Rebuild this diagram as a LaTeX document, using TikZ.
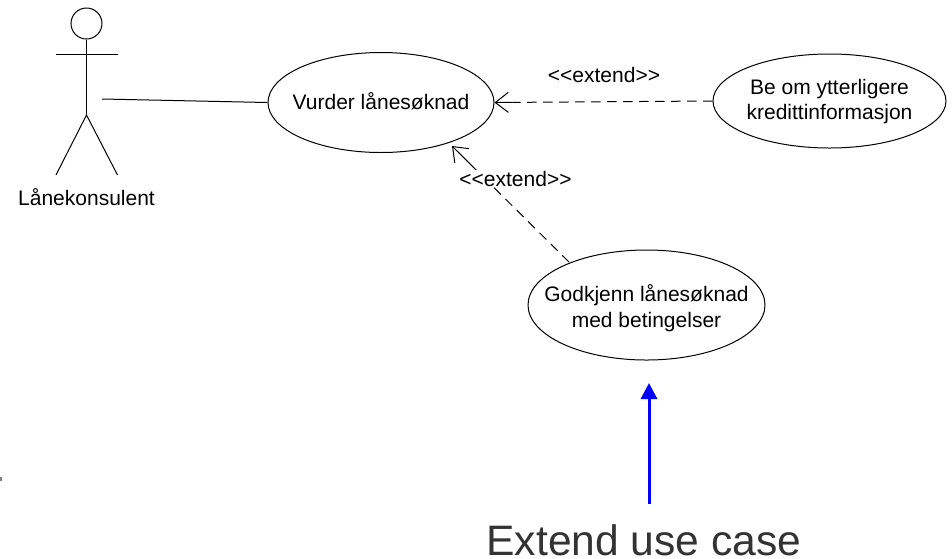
\documentclass[tikz,border=0pt]{standalone}
\usepackage{fontspec}
\setmainfont{Liberation Sans}
\usetikzlibrary{arrows.meta,shapes.geometric,calc}
\definecolor{dk}{HTML}{333333}
\newcommand{\uctext}[2][0pt]{\raisebox{#1}[0pt][0pt]{\makebox[0pt][c]{\begin{tabular}{@{}c@{}}#2\end{tabular}}}}
\tikzset{
  line/.style={draw=black,line width=1pt},
  usecase/.style={ellipse,draw=black,line width=1pt,inner sep=0pt,font=\fontsize{21}{25.5}\selectfont},
  lbl/.style={font=\fontsize{21}{25}\selectfont,inner sep=1pt},
  openhead/.style={-{Straight Barb[length=13pt,width=20pt,line width=1pt]}},
  dashline/.style={dash pattern=on 9.5pt off 6.5pt},
}
\begin{document}
\begin{tikzpicture}[x=1pt,y=-1pt]
\useasboundingbox (0,0) rectangle (952,558);
% actor
\node[circle,draw=black,line width=1pt,minimum size=31pt,inner sep=0pt] (head) at (86.5,23.5) {};
\coordinate (hip) at (86.5,115);
\coordinate (armL) at (56,54);
\coordinate (armR) at (117.5,54);
\coordinate (legL) at (56,175);
\coordinate (legR) at (117.5,175);
\draw[line] (head.south) -- (hip);
\draw[line] (armL) -- (armR);
\draw[line] (legL) -- (hip) -- (legR);
\node[lbl] (actor) at (86.5,197.5) {Lånekonsulent};
% use cases
\node[usecase,minimum width=226pt,minimum height=100pt] (vurder) at (381,102.5) {\uctext[-7.25pt]{Vurder lånesøknad}};
\node[usecase,minimum width=233pt,minimum height=94pt] (kreditt) at (829.5,101) {\uctext[-6.25pt]{Be om ytterligere\\kredittinformasjon}};
\node[usecase,minimum width=237pt,minimum height=110pt] (godkjenn) at (646.5,305) {\uctext[-9.75pt]{Godkjenn lånesøknad\\med betingelser}};
% connectors
\coordinate (assocStart) at (102,99);
\draw[line] (assocStart) -- (vurder.west);
\coordinate (shaftA) at ($(vurder.east)!18pt!(kreditt.west)$);
\draw[line,dashline] (kreditt.west) -- (shaftA);
\draw[line,openhead] (shaftA) -- (vurder.east);
\node[lbl] (ext1) at (604,74.5) {<{}<extend>{}>};
\coordinate (godkjennTop) at (569,262);
\coordinate (vurderLow) at (452,146);
\coordinate (shaftB) at ($(vurderLow)!28pt!(godkjennTop)$);
\draw[line,dashline] (godkjennTop) -- (shaftB);
\draw[line,openhead] (shaftB) -- (vurderLow);
\node[lbl,fill=white,inner sep=1pt] (ext2) at (515.5,178.5) {<{}<extend>{}>};
% callout
\node[font=\fontsize{42.6}{46}\selectfont,text=dk,inner sep=0pt,anchor=base] (callout) at (644,555) {Extend use case};
\coordinate (calloutTop) at (649,504);
\coordinate (calloutTip) at (649,383);
\draw[draw=blue,line width=3pt,-{Triangle[length=16pt,width=16pt,fill=blue]}] (calloutTop) -- (calloutTip);
\fill[gray] (0,476.5) rectangle (2,480.5);
\end{tikzpicture}
\end{document}
